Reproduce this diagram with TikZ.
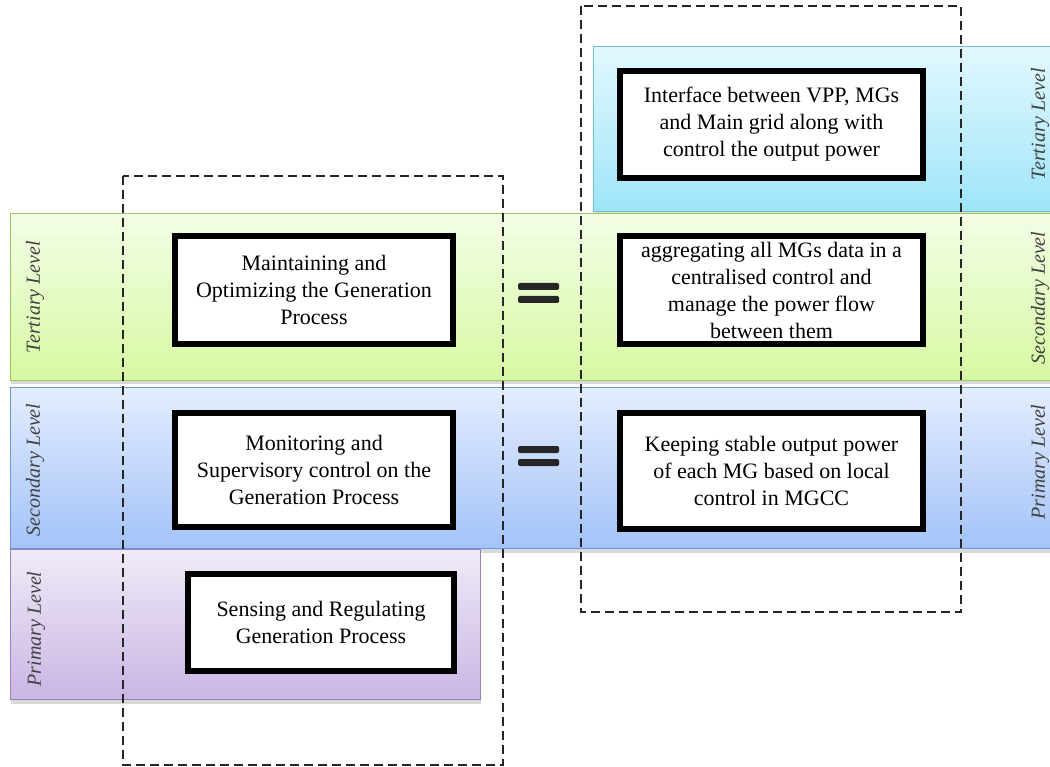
\documentclass[tikz,border=0pt]{standalone}
\usepackage{fontspec}
\setmainfont{Liberation Serif}
\usetikzlibrary{shadows,calc}
\definecolor{cyanT}{HTML}{E3F8FE}
\definecolor{cyanB}{HTML}{9EE5F9}
\definecolor{cyanD}{HTML}{6CC3DA}
\definecolor{greenT}{HTML}{F3FDE6}
\definecolor{greenB}{HTML}{D7F9A2}
\definecolor{greenD}{HTML}{9CC95E}
\definecolor{blueT}{HTML}{E3EDFE}
\definecolor{blueB}{HTML}{A3C3F9}
\definecolor{blueD}{HTML}{6F96D6}
\definecolor{purpT}{HTML}{F0EAF7}
\definecolor{purpB}{HTML}{C9B6E4}
\definecolor{purpD}{HTML}{9B80BF}
\begin{document}
\begin{tikzpicture}[x=1pt,y=-1pt,
  band/.style={line width=1pt, anchor=north west, inner sep=0pt,
    drop shadow={shadow xshift=0pt, shadow yshift=-4pt, opacity=0.3}},
  box/.style={draw=black, line width=6pt, fill=white, align=center,
    inner sep=0pt, font=\fontsize{22}{27}\selectfont},
  lvl/.style={rotate=90, text=black!75, inner sep=0pt,
    font=\fontsize{20}{24}\selectfont\itshape},
  dashbox/.style={draw=black!85, line width=1.3pt, dash pattern=on 9pt off 5pt},
  eqbar/.style={fill=black!85, rounded corners=1.5pt}]
\useasboundingbox (0,0) rectangle (1050,767);

% level bands
\node[band, draw=cyanD, top color=cyanT, bottom color=cyanB,
  minimum width=470, minimum height=165] (bandTop) at (593,46) {};
\node[band, draw=greenD, top color=greenT, bottom color=greenB,
  minimum width=1060, minimum height=167] (bandGreen) at (10,213) {};
\node[band, draw=blueD, top color=blueT, bottom color=blueB,
  minimum width=1060, minimum height=161] (bandBlue) at (10,387) {};
\node[band, draw=purpD, top color=purpT, bottom color=purpB,
  minimum width=470, minimum height=150] (bandPurple) at (10,549) {};

% level labels
\node[lvl] (lT) at (35,297) {Tertiary Level};
\node[lvl] (lS) at (35,470) {Secondary Level};
\node[lvl] (lP) at (36,629) {Primary Level};
\node[lvl] (rT) at (1040,124) {Tertiary Level};
\node[lvl] (rS) at (1040,298) {Secondary Level};
\node[lvl] (rP) at (1040,462) {Primary Level};

% boxes
\node[box, minimum width=278, minimum height=108] (m1) at (314,290)
  {Maintaining and\\Optimizing the Generation\\Process};
\node[box, minimum width=278, minimum height=114] (m2) at (314,470)
  {Monitoring and\\Supervisory control on the\\Generation Process};
\node[box, minimum width=266, minimum height=97] (m3) at (321,622.5)
  {Sensing and Regulating\\Generation Process};
\node[box, minimum width=303, minimum height=107] (r1) at (771.5,124.5)
  {Interface between VPP, MGs\\and Main grid along with\\control the output power};
\node[box, minimum width=303, minimum height=108] (r2) at (771.5,290)
  {aggregating all MGs data in a\\centralised control and\\manage the power flow\\between them};
\node[box, minimum width=303, minimum height=116] (r3) at (771.5,471)
  {Keeping stable output power\\of each MG based on local\\control in MGCC};

% equals signs
\coordinate (eq1) at (538.5,293);
\coordinate (eq2) at (538.5,456);
\foreach \e in {eq1,eq2}{
  \fill[eqbar] ($(\e)+(-20.5,-10)$) rectangle ($(\e)+(20.5,-3)$);
  \fill[eqbar] ($(\e)+(-20.5,3)$) rectangle ($(\e)+(20.5,10)$);
}

% dashed groupings
\draw[dashbox] (123,176) rectangle (503,765);
\draw[dashbox] (581,6) rectangle (961,612);
\end{tikzpicture}
\end{document}
